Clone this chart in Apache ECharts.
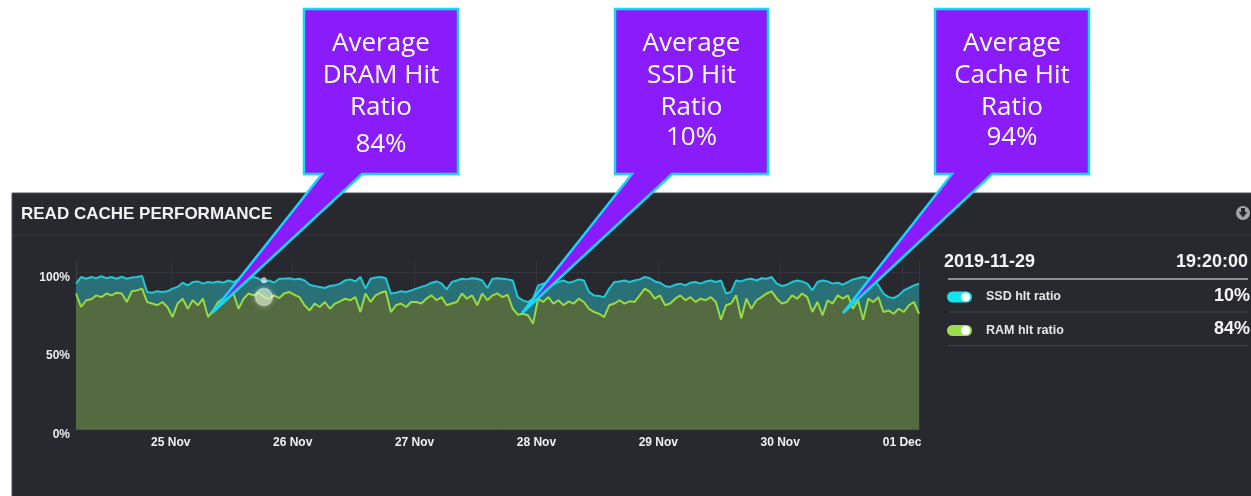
<!DOCTYPE html>
<html>
<head>
<meta charset="utf-8">
<script src="https://cdn.jsdelivr.net/npm/echarts@6/dist/echarts.min.js"></script>
<style>
  html, body { margin: 0; padding: 0; background: #fff; }
  #chart { width: 1251px; height: 496px; }
</style>
</head>
<body>
<div id="chart"></div>
<script>
// hourly samples, 24 Nov 05:20 -> 01 Dec 03:20
const startTime = new Date('2019-11-24T05:20:00').getTime();
const stepMs = 3600 * 1000;

// total cache hit ratio (top, cyan line)
const cacheHit = [
  92.6, 96.8, 95.7, 96.8, 96.0, 97.4, 96.0, 96.8, 95.7, 97.0, 95.7, 96.5, 96.8, 97.4, 87.3, 86.8, 87.7,
  87.3, 87.7, 89.4, 90.5, 93.2, 91.5, 93.6, 94.0, 92.6, 93.6, 93.2, 94.0, 93.2, 94.6, 93.6, 95.3, 95.7,
  95.9, 96.8, 95.7, 93.6, 94.6, 93.2, 95.7, 95.7, 96.0, 95.3, 95.7, 94.6, 91.9, 91.1, 90.5, 89.8, 91.1,
  91.5, 92.6, 94.6, 95.3, 94.0, 96.8, 89.4, 95.7, 96.5, 96.8, 96.0, 86.3, 86.8, 87.7, 87.3, 88.3, 89.4,
  90.5, 91.5, 93.2, 94.0, 92.6, 88.9, 93.6, 94.6, 95.7, 95.3, 96.0, 95.7, 94.6, 89.8, 95.7, 96.0, 95.7,
  95.3, 94.6, 84.0, 81.9, 80.9, 83.0, 91.5, 92.6, 93.6, 91.9, 93.6, 94.6, 93.2, 94.0, 95.3, 94.6,
  87.3, 85.1, 84.7, 84.0, 89.4, 93.6, 94.0, 94.6, 93.6, 94.6, 95.3, 96.8, 96.0, 94.0, 93.2, 91.1, 90.5,
  91.9, 92.6, 91.5, 93.2, 93.6, 92.6, 94.0, 94.6, 93.6, 94.6, 86.3, 87.3, 94.6, 94.0, 95.3, 95.7,
  94.6, 96.0, 95.7, 96.8, 92.6, 91.1, 91.9, 93.6, 94.6, 94.0, 92.6, 88.3, 93.6, 94.6, 94.0, 92.6, 93.2,
  91.9, 93.6, 95.3, 96.0, 96.8, 96.0, 95.7, 91.5, 86.3, 84.0, 83.4, 85.1, 88.3, 89.8, 91.5, 92.6
];

// RAM hit ratio (green line)
const ramHit = [
  86.3, 77.7, 82.0, 82.6, 85.1, 84.0, 86.3, 85.1, 86.8, 86.3, 80.9, 87.7, 88.3, 89.4, 80.9, 79.9, 78.8,
  80.9, 77.7, 71.3, 79.9, 83.0, 76.6, 82.0, 78.8, 83.0, 71.3, 75.5, 80.9, 83.0, 85.1, 86.3, 76.6, 83.0,
  86.3, 85.1, 86.8, 84.0, 83.0, 85.1, 83.4, 86.3, 87.3, 85.5, 84.0, 78.8, 75.5, 79.9, 77.7, 80.9, 76.6,
  79.9, 81.3, 83.0, 82.0, 84.0, 74.5, 86.3, 80.9, 85.1, 86.8, 87.7, 74.5, 78.8, 79.9, 77.7, 80.9, 80.9,
  79.9, 83.0, 85.1, 82.0, 84.0, 78.8, 79.9, 80.9, 86.3, 83.0, 85.1, 78.8, 86.3, 82.0, 85.1, 86.3, 84.0,
  85.5, 76.6, 72.8, 73.4, 72.4, 67.1, 83.0, 80.9, 84.0, 79.9, 82.0, 78.8, 81.3, 79.9, 83.0, 80.9,
  76.6, 74.5, 73.4, 71.3, 78.8, 79.9, 82.0, 79.9, 81.3, 80.9, 85.1, 89.4, 87.3, 83.0, 85.1, 78.8, 79.9,
  83.0, 85.1, 82.0, 84.0, 80.9, 83.0, 82.0, 84.0, 80.9, 69.6, 78.8, 79.9, 85.1, 70.3, 83.0, 76.6,
  82.0, 84.0, 86.3, 87.7, 83.0, 79.9, 80.9, 85.1, 83.0, 86.3, 84.0, 74.5, 80.9, 72.4, 82.0, 79.9, 85.1,
  83.0, 85.1, 76.6, 82.0, 69.6, 83.0, 80.9, 84.0, 74.5, 75.5, 73.4, 76.6, 74.5, 78.8, 80.9, 73.4
];

const xTickLabels = ['25 Nov', '26 Nov', '27 Nov', '28 Nov', '29 Nov', '30 Nov', '01 Dec'];
const yTickLabels = ['0%', '50%', '100%'];
const hoverIndex = 37;

const legendDate = '2019-11-29';
const legendTime = '19:20:00';
const legendRows = [
  { name: 'SSD hlt ratio', value: '10%', color: '#13e3ee' },
  { name: 'RAM hlt ratio', value: '84%', color: '#9ade4c' }
];

const callouts = [
  { lines: 'Average\nDRAM Hit\nRatio', value: '84%', box: [304, 9, 458, 174], base: [322, 362], tip: [212, 313], valueY: 144 },
  { lines: 'Average\nSSD Hit\nRatio', value: '10%', box: [615, 9, 768, 174], base: [632, 672], tip: [522, 313], valueY: 137 },
  { lines: 'Average\nCache Hit\nRatio', value: '94%', box: [935, 9, 1089, 174], base: [952, 992], tip: [843, 313], valueY: 137 }
];

const times = cacheHit.map((_, i) => startTime + i * stepMs);
const cacheData = cacheHit.map((v, i) => [times[i], v]);
const ramData = ramHit.map((v, i) => [times[i], v]);

const dayKey = (d) => d.getMonth() * 100 + d.getDate();
const labelByDay = {};
xTickLabels.forEach((l, i) => {
  labelByDay[dayKey(new Date(startTime + (i + 1) * 86400000))] = l;
});

const chart = echarts.init(document.getElementById('chart'));

const graphics = [
  {
    type: 'rect', z: -10,
    shape: { x: 12, y: 193, width: 1250, height: 310 },
    style: { fill: '#28282f', stroke: '#505056', lineWidth: 1 }
  },
  {
    type: 'line', z: -9,
    shape: { x1: 13, y1: 235, x2: 1251, y2: 235 },
    style: { stroke: '#32323a', lineWidth: 1 }
  },
  {
    type: 'text', z: 5,
    style: {
      x: 21, y: 214, text: 'READ CACHE PERFORMANCE', fill: '#f2f2f2',
      font: 'bold 17px "Liberation Sans", Arial, sans-serif', textVerticalAlign: 'middle'
    }
  },
  {
    type: 'circle', z: 5,
    shape: { cx: 1243, cy: 213, r: 7 },
    style: { fill: '#a4a4a8' }
  },
  {
    type: 'polygon', z: 6,
    shape: { points: [[1241, 208], [1245, 208], [1245, 212], [1247.5, 212], [1243, 217.5], [1238.5, 212], [1241, 212]] },
    style: { fill: '#28282f' }
  },
  {
    type: 'text', z: 5,
    style: {
      x: 944, y: 262, text: legendDate, fill: '#f4f4f4',
      font: 'bold 18px "Liberation Sans", Arial, sans-serif', textVerticalAlign: 'middle'
    }
  },
  {
    type: 'text', z: 5,
    style: {
      x: 1248, y: 262, text: legendTime, fill: '#f4f4f4', textAlign: 'right',
      font: 'bold 18px "Liberation Sans", Arial, sans-serif', textVerticalAlign: 'middle'
    }
  },
  {
    type: 'line', z: 5,
    shape: { x1: 948, y1: 279, x2: 1248, y2: 279 },
    style: { stroke: '#8c9099', lineWidth: 2 }
  }
];

legendRows.forEach((row, i) => {
  const cy = 297 + i * 33.5;
  graphics.push(
    {
      type: 'rect', z: 5,
      shape: { x: 947, y: cy - 5.5, width: 25, height: 11, r: 5.5 },
      style: { fill: row.color }
    },
    {
      type: 'circle', z: 6,
      shape: { cx: 965.5, cy: cy, r: 4.5 },
      style: { fill: '#ffffff' }
    },
    {
      type: 'text', z: 5,
      style: {
        x: 986, y: cy, text: row.name, fill: '#e6e6e6',
        font: 'bold 12.5px "Liberation Sans", Arial, sans-serif', textVerticalAlign: 'middle'
      }
    },
    {
      type: 'text', z: 5,
      style: {
        x: 1250, y: cy - 1, text: row.value, fill: '#f6f6f6', textAlign: 'right',
        font: 'bold 18px "Liberation Sans", Arial, sans-serif', textVerticalAlign: 'middle'
      }
    },
    {
      type: 'line', z: 5,
      shape: { x1: 948, y1: cy + 15, x2: 1248, y2: cy + 15 },
      style: { stroke: '#404048', lineWidth: 1 }
    }
  );
});

callouts.forEach((c) => {
  const [x1, y1, x2, y2] = c.box;
  graphics.push(
    {
      type: 'polygon', z: 50,
      shape: {
        points: [[x1, y1], [x2, y1], [x2, y2], [c.base[1], y2], c.tip, [c.base[0], y2], [x1, y2]]
      },
      style: { fill: '#8a1cfc', stroke: '#17d6f6', lineWidth: 2.5, lineJoin: 'miter' }
    },
    {
      type: 'text', z: 51,
      style: {
        x: (x1 + x2) / 2, y: 76, text: c.lines, fill: '#ffffff', textAlign: 'center',
        textVerticalAlign: 'middle', lineHeight: 32,
        font: '26px "Open Sans", "Noto Sans", sans-serif'
      }
    },
    {
      type: 'text', z: 51,
      style: {
        x: (x1 + x2) / 2, y: c.valueY + 1, text: c.value, fill: '#ffffff', textAlign: 'center',
        textVerticalAlign: 'middle',
        font: '26px "Open Sans", "Noto Sans", sans-serif'
      }
    }
  );
});

chart.setOption({
  backgroundColor: '#ffffff',
  animation: false,
  grid: { left: 76, top: 261, right: 332, bottom: 67 },
  xAxis: {
    type: 'time',
    min: times[0],
    max: times[times.length - 1],
    minInterval: 86400000,
    maxInterval: 86400000,
    axisLine: { lineStyle: { color: '#55555c' } },
    axisTick: { show: false },
    axisLabel: {
      color: '#f0f0f0',
      fontWeight: 'bold',
      fontSize: 12,
      fontFamily: '"Liberation Sans", Arial, sans-serif',
      margin: 8,
      formatter: (val) => {
        const d = new Date(val);
        if (d.getHours() !== 0 || d.getMinutes() !== 0) return '';
        return labelByDay[dayKey(d)] || '';
      }
    },
    splitLine: { show: true, lineStyle: { color: '#34343b' } }
  },
  yAxis: {
    type: 'value',
    min: 0,
    max: 107,
    interval: 50,
    axisLine: { show: true, lineStyle: { color: '#3e3e46' } },
    axisTick: { show: false },
    axisLabel: {
      color: '#ececec',
      fontWeight: 'bold',
      fontSize: 12,
      fontFamily: '"Liberation Sans", Arial, sans-serif',
      margin: 6,
      verticalAlign: 'top',
      lineHeight: 11,
      showMaxLabel: false,
      formatter: (v) => (v % 50 === 0 ? yTickLabels[v / 50] || '' : '')
    },
    splitLine: { show: true, showMaxLine: false, lineStyle: { color: '#34343b' } }
  },
  series: [
    {
      name: 'Cache hit ratio',
      type: 'line',
      data: cacheData,
      showSymbol: false,
      lineStyle: { color: '#22c7d6', width: 2 },
      areaStyle: { color: '#2a7077', opacity: 1 },
      markPoint: {
        symbol: 'circle',
        symbolSize: 6,
        label: { show: false },
        itemStyle: { color: 'rgba(225,238,238,0.75)' },
        data: [{ coord: [times[hoverIndex], cacheHit[hoverIndex] + 1.2] }]
      }
    },
    {
      name: 'RAM hit ratio',
      type: 'line',
      data: ramData,
      showSymbol: false,
      lineStyle: { color: '#9bd941', width: 2 },
      areaStyle: { color: '#546b41', opacity: 1 },
      markPoint: {
        symbol: 'circle',
        symbolSize: 17,
        label: { show: false },
        itemStyle: {
          color: 'rgba(214,236,196,0.6)',
          borderColor: 'rgba(255,255,255,0.35)',
          borderWidth: 2,
          shadowBlur: 6,
          shadowColor: 'rgba(255,255,255,0.5)'
        },
        data: [{ coord: [times[hoverIndex], ramHit[hoverIndex]] }]
      }
    }
  ],
  graphic: { elements: graphics }
});
</script>
</body>
</html>
